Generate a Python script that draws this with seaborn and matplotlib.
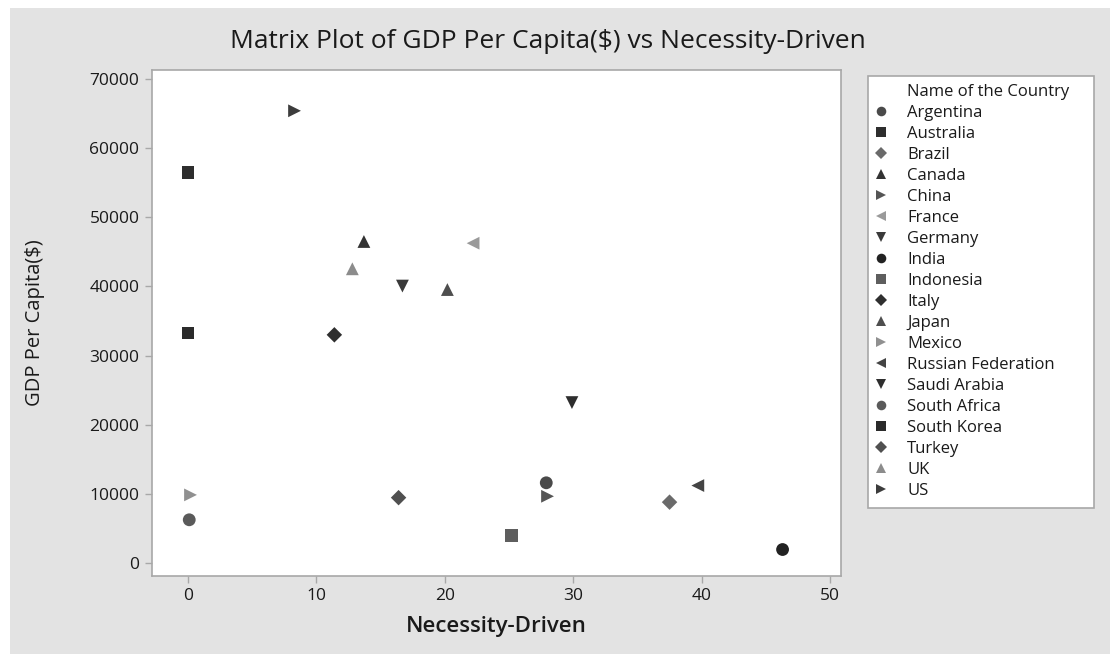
import numpy as np
import pandas as pd
import seaborn as sns
import matplotlib.pyplot as plt
from matplotlib.patches import Rectangle
from matplotlib.lines import Line2D

# %% data
countries = ['Argentina', 'Australia', 'Brazil', 'Canada', 'China', 'France',
             'Germany', 'India', 'Indonesia', 'Italy', 'Japan', 'Mexico',
             'Russian Federation', 'Saudi Arabia', 'South Africa', 'South Korea',
             'Turkey', 'UK', 'US']
necessity = [27.9, 0.0, 37.5, 13.7, 28.0, 22.2, 16.7, 46.3, 25.2, 11.4, 20.2,
             0.2, 39.7, 29.9, 0.1, 0.0, 16.4, 12.8, 8.3]
gdp = [11600, 56500, 8800, 46500, 9650, 46250, 40050, 1950, 3950, 33000, 39550,
       9850, 11200, 23200, 6250, 33250, 9450, 42550, 65400]

greys = ['#4a4a4a', '#2e2e2e', '#6a6a6a', '#333333', '#555555', '#9a9a9a',
         '#3a3a3a', '#222222', '#5e5e5e', '#2f2f2f', '#4e4e4e', '#909090',
         '#444444', '#2e2e2e', '#5a5a5a', '#2b2b2b', '#505050', '#8c8c8c', '#3c3c3c']
shapes = ['o', 's', 'D', '^', '>', '<', 'v'] * 3

df = pd.DataFrame({'Name of the Country': countries,
                   'Necessity-Driven': necessity,
                   'GDP Per Capita($)': gdp})

palette = dict(zip(countries, greys))
markers = dict(zip(countries, shapes[:len(countries)]))

# %% figure
sns.set_style('white')
plt.rcParams['font.family'] = ['Open Sans', 'DejaVu Sans']

fig = plt.figure(figsize=(11.1, 6.54), dpi=100, facecolor='white')
# grey Minitab-like background panel, behind everything
bg = Rectangle((10 / 1110, 0), 1, 646 / 654, transform=fig.transFigure,
               facecolor='#e3e3e3', edgecolor='none', zorder=-10)
fig.add_artist(bg)

ax = fig.add_axes([152 / 1110, 78 / 654, 689 / 1110, 506 / 654])
ax.set_facecolor('white')

sns.scatterplot(data=df, x='Necessity-Driven', y='GDP Per Capita($)',
                hue='Name of the Country', style='Name of the Country',
                palette=palette, markers=markers, s=85, linewidth=0,
                legend='full', ax=ax)

# matplotlib's diamond is larger than the other glyphs, shrink it a bit
pt_sizes = np.array([62 if markers[c] == 'D' else 85 for c in countries])
ax.collections[0].set_sizes(pt_sizes)

ax.set_xlim(-2.8, 50.85)
ax.set_ylim(-1880, 71300)
ax.set_xticks([0, 10, 20, 30, 40, 50])
ax.set_yticks(np.arange(0, 70001, 10000))

for sp in ax.spines.values():
    sp.set_color('#a8a8a8')
    sp.set_linewidth(1.2)
ax.tick_params(axis='both', direction='out', length=5, width=1, color='#a8a8a8',
               labelsize=12.5, labelcolor='#1a1a1a', pad=4, bottom=True, left=True)

ax.set_xlabel('Necessity-Driven', fontsize=16, fontweight='semibold',
              color='#1a1a1a', labelpad=8)
ax.set_ylabel('GDP Per Capita($)', fontsize=14.5, color='#1a1a1a')
ax.yaxis.set_label_coords((45 - 152) / 689, 0.5)

fig.text(548 / 1110, 1 - 42 / 654, 'Matrix Plot of GDP Per Capita($) vs Necessity-Driven',
         ha='center', va='center', fontsize=19, color='#1a1a1a')

# legend with the title lined up with the labels
handles, labels = ax.get_legend_handles_labels()
if ax.get_legend():
    ax.get_legend().remove()
title_handle = Line2D([], [], linestyle='none', marker=None)
handles = [title_handle] + handles
labels = ['Name of the Country'] + labels
leg = ax.legend(handles, labels, loc='upper left',
                bbox_to_anchor=(868 / 1110, 578 / 654, 226 / 1110, 0.0),
                bbox_transform=fig.transFigure, mode='expand', borderaxespad=0,
                frameon=True, fancybox=False, fontsize=12, labelspacing=0.30,
                handletextpad=1.35, handlelength=0.5, borderpad=0.5,
                markerscale=0.75, framealpha=1)
leg.get_frame().set_facecolor('white')
leg.get_frame().set_edgecolor('#a8a8a8')
leg.get_frame().set_linewidth(1.2)
for t in leg.get_texts():
    t.set_color('#1a1a1a')
for h, lab in zip(leg.legend_handles, labels):
    if lab in markers and markers[lab] == 'D':
        if hasattr(h, 'set_markersize'):
            h.set_markersize(h.get_markersize() * 0.82)
        elif hasattr(h, 'set_sizes'):
            h.set_sizes(np.asarray(h.get_sizes()) * 0.68)

fig.savefig('out.png', dpi=100, facecolor=fig.get_facecolor())
